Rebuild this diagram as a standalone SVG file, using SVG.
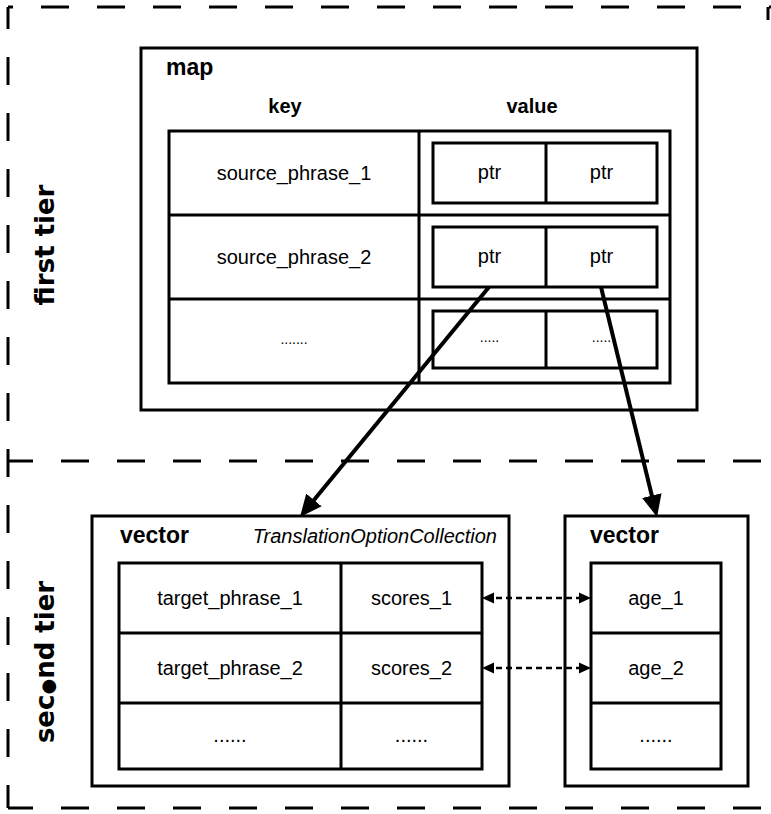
<svg xmlns="http://www.w3.org/2000/svg" width="771" height="814" viewBox="0 0 771 814">
  <style>
    .box { fill: none; stroke: #000; stroke-width: 3; }
    .ln { fill: none; stroke: #000; stroke-width: 3; }
    .tier { fill: none; stroke: #000; stroke-width: 3; stroke-dasharray: 28 28; }
    .t { font-family: "Liberation Sans", Arial, sans-serif; font-size: 20px; text-anchor: middle; dominant-baseline: central; fill: #000; }
    .sm { font-size: 14px; }
    .head { font-family: "Liberation Sans", Arial, sans-serif; font-size: 20px; font-weight: bold; text-anchor: middle; fill: #000; }
    .title { font-family: "Liberation Sans", Arial, sans-serif; font-size: 23px; font-weight: bold; fill: #000; }
    .sub { font-family: "Liberation Sans", Arial, sans-serif; font-size: 20px; font-style: italic; text-anchor: end; fill: #000; }
    .tierlbl { font-family: "DejaVu Sans", sans-serif; font-size: 26px; font-weight: bold; text-anchor: middle; fill: #000; }
    .link { fill: none; stroke: #000; stroke-width: 4; }
    .pair { fill: none; stroke: #000; stroke-width: 2.5; stroke-dasharray: 6 4; }
  </style>
  <defs>
    <marker id="arrow" markerUnits="userSpaceOnUse" markerWidth="22" markerHeight="20" refX="10" refY="10" orient="auto">
      <path d="M0,0 L22,10 L0,20 z" fill="#000"/>
    </marker>
    <marker id="tip" markerUnits="userSpaceOnUse" markerWidth="12" markerHeight="12" refX="8" refY="6" orient="auto-start-reverse">
      <path d="M0,0.5 L12,6 L0,11.5 z" fill="#000"/>
    </marker>
  </defs>

  <!-- tier frames -->
  <g id="tiers">
    <path class="tier" d="M8,7 H771" stroke-dashoffset="23"/>
    <path class="tier" d="M8,7 V808" stroke-dashoffset="6"/>
    <path class="tier" d="M8,461 H771" stroke-dashoffset="3"/>
    <path class="tier" d="M8,808 H771" stroke-dashoffset="3"/>
    <path class="ln" d="M768,7 V20"/>
    <text class="tierlbl" transform="translate(54,245) rotate(-90)">first tier</text>
    <text class="tierlbl" transform="translate(54,662) rotate(-90)">sec<tspan font-size="18">●</tspan>nd  tier</text>
  </g>

  <!-- first tier: map -->
  <g id="map">
    <rect class="box" x="141" y="48" width="556" height="362"/>
    <text class="title" x="166" y="75">map</text>
    <text class="head" x="285" y="113">key</text>
    <text class="head" x="532" y="113">value</text>
    <rect class="box" x="169" y="131" width="501" height="252"/>
    <path class="ln" d="M419,131 V383 M169,215 H670 M169,299 H670"/>
  </g>
  <g id="row1">
    <text class="t" x="294" y="173">source_phrase_1</text>
    <rect class="box" x="433" y="143" width="224" height="60"/>
    <path class="ln" d="M546,143 V203"/>
    <text class="t" x="489.5" y="172">ptr</text>
    <text class="t" x="601.5" y="172">ptr</text>
  </g>
  <g id="row2">
    <text class="t" x="294" y="257">source_phrase_2</text>
    <rect class="box" x="433" y="227" width="224" height="60"/>
    <path class="ln" d="M546,227 V287"/>
    <text class="t" x="489.5" y="256">ptr</text>
    <text class="t" x="601.5" y="256">ptr</text>
  </g>
  <g id="row3">
    <text class="t sm" x="294" y="339">.......</text>
    <rect class="box" x="433" y="311" width="224" height="57"/>
    <path class="ln" d="M546,311 V368"/>
    <text class="t sm" x="489.5" y="337">.....</text>
    <text class="t sm" x="601.5" y="337">.....</text>
  </g>

  <!-- second tier: option collection -->
  <g id="options">
    <rect class="box" x="92" y="516" width="417" height="270"/>
    <text class="title" x="120" y="543">vector</text>
    <text class="sub" x="497" y="543">TranslationOptionCollection</text>
    <rect class="box" x="119" y="563" width="363" height="206"/>
    <path class="ln" d="M341,563 V769 M119,633 H482 M119,703 H482"/>
    <text class="t" x="230" y="598">target_phrase_1</text>
    <text class="t" x="411.5" y="598">scores_1</text>
    <text class="t" x="230" y="668">target_phrase_2</text>
    <text class="t" x="411.5" y="668">scores_2</text>
    <text class="t" x="230" y="735">......</text>
    <text class="t" x="411.5" y="735">......</text>
  </g>

  <!-- second tier: ages -->
  <g id="ages">
    <rect class="box" x="565" y="516" width="183" height="270"/>
    <text class="title" x="590" y="543">vector</text>
    <rect class="box" x="591" y="563" width="130" height="206"/>
    <path class="ln" d="M591,633 H721 M591,703 H721"/>
    <text class="t" x="656" y="598">age_1</text>
    <text class="t" x="656" y="668">age_2</text>
    <text class="t" x="656" y="735">......</text>
  </g>

  <!-- connectors -->
  <g id="connectors">
    <path class="link" d="M489,287 L307.6,507.7" marker-end="url(#arrow)"/>
    <path class="link" d="M601,287 L654.2,505.3" marker-end="url(#arrow)"/>
    <path class="pair" d="M486,598 H587" marker-start="url(#tip)" marker-end="url(#tip)"/>
    <path class="pair" d="M486,668 H587" marker-start="url(#tip)" marker-end="url(#tip)"/>
  </g>
</svg>
